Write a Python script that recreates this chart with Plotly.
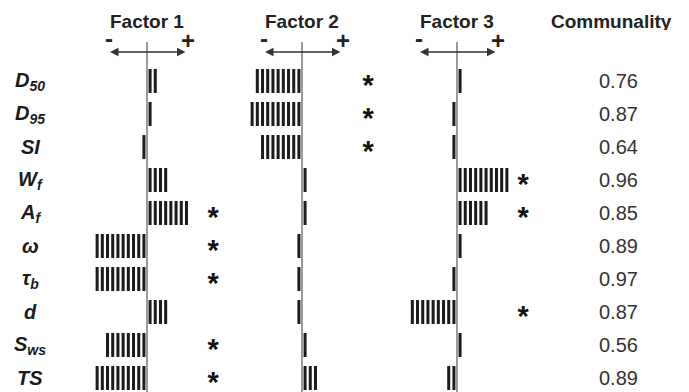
import plotly.graph_objects as go

# Variables (rows), top to bottom
row_labels = [
    "<b><i>D</i></b><sub><b><i>50</i></b></sub>",
    "<b><i>D</i></b><sub><b><i>95</i></b></sub>",
    "<b><i>SI</i></b>",
    "<b><i>W</i></b><sub><b><i>f</i></b></sub>",
    "<b><i>A</i></b><sub><b><i>f</i></b></sub>",
    "<b><i>ω</i></b>",
    "<b><i>τ</i></b><sub><b><i>b</i></b></sub>",
    "<b><i>d</i></b>",
    "<b><i>S</i></b><sub><b><i>ws</i></b></sub>",
    "<b><i>TS</i></b>",
]

factor_names = ["Factor 1", "Factor 2", "Factor 3"]

# Factor loadings (one stripe per 0.1)
factor1 = [0.2, 0.1, -0.1, 0.4, 0.8, -1.0, -1.0, 0.4, -0.8, -1.0]
factor2 = [-0.9, -1.0, -0.8, 0.1, 0.1, -0.1, -0.1, -0.1, 0.1, 0.3]
factor3 = [0.1, -0.1, -0.1, 1.0, 0.6, 0.1, -0.1, -0.9, 0.1, -0.2]

# Significant loadings (row indices)
sig1 = [4, 5, 6, 8, 9]
sig2 = [0, 1, 2]
sig3 = [3, 4, 7]

communality = [0.76, 0.87, 0.64, 0.96, 0.85, 0.89, 0.97, 0.87, 0.56, 0.89]

loadings = [factor1, factor2, factor3]
significant = [sig1, sig2, sig3]

W, H = 689, 392
STEP = 0.1        # loading covered by one stripe
STRIPE_W = 0.058  # drawn stripe thickness (loading units)
GAP0 = 0.03       # gap between axis line and first stripe
HALF = 1.45       # half range of each factor axis
PX_PER_UNIT = 52.0
STAR_X = 1.27     # asterisk column, in loading units
centers_px = [147, 302, 457]

# Row i sits at pixel 81 + 33*i
ROW0, ROW_H = 81.0, 33.0
y_top = -ROW0 / ROW_H
y_bot = (H - ROW0) / ROW_H

def py(p):
    return (p - ROW0) / ROW_H

def stripes(vals):
    ys, bases, lens = [], [], []
    for i, v in enumerate(vals):
        n = int(round(abs(v) / STEP))
        for k in range(n):
            start = GAP0 + k * STEP
            base = start if v > 0 else -(start + STRIPE_W)
            ys.append(i)
            bases.append(base)
            lens.append(STRIPE_W)
    return ys, bases, lens

fig = go.Figure()
annotations = []
shapes = []
font_family = "Liberation Sans, Arial, sans-serif"

for f, vals in enumerate(loadings):
    xa = "x" if f == 0 else f"x{f + 1}"
    ys, bases, lens = stripes(vals)
    fig.add_trace(go.Bar(
        orientation="h", y=ys, x=lens, base=bases, width=0.73,
        marker=dict(color="#1c1c1c", line=dict(width=0)),
        xaxis=xa, yaxis="y", showlegend=False, hoverinfo="skip",
    ))
    # significance markers
    sig = significant[f]
    fig.add_trace(go.Scatter(
        x=[STAR_X] * len(sig), y=[s + 0.2 for s in sig], mode="text",
        text=["<b>*</b>"] * len(sig),
        textfont=dict(size=29, color="#111", family=font_family),
        xaxis=xa, yaxis="y", showlegend=False, hoverinfo="skip",
        cliponaxis=False,
    ))
    c = centers_px[f]
    half_px = HALF * PX_PER_UNIT
    dom = [(c - half_px) / W, (c + half_px) / W]
    fig.layout[f"xaxis{'' if f == 0 else f + 1}"] = dict(
        domain=dom, range=[-HALF, HALF], visible=False, fixedrange=True)
    xr = xa
    shapes.append(dict(type="line", xref=xr, yref="y", x0=0, x1=0,
                       y0=py(42), y1=y_bot + 0.2,
                       line=dict(color="#7a7a7a", width=1.5)))
    annotations.append(dict(xref=xr, yref="y", x=0, y=py(21), xanchor="center",
                            text=f"<b>{factor_names[f]}</b>", showarrow=False,
                            height=18,
                            font=dict(size=19, color="#222", family=font_family)))
    annotations.append(dict(xref=xr, yref="y", x=0.74, y=py(52),
                            axref=xr, ayref="y", ax=-0.74, ay=py(52),
                            text="", showarrow=True, arrowhead=2, startarrowhead=2,
                            arrowside="end+start", arrowsize=1.3, arrowwidth=1.3,
                            arrowcolor="#333"))
    annotations.append(dict(xref=xr, yref="y", x=-0.74, y=py(38), xanchor="center",
                            text="<b>-</b>", showarrow=False, height=16,
                            font=dict(size=24, color="#222", family=font_family)))
    annotations.append(dict(xref=xr, yref="y", x=0.78, y=py(40), xanchor="center",
                            text="<b>+</b>", showarrow=False, height=16,
                            font=dict(size=24, color="#222", family=font_family)))

for i, lab in enumerate(row_labels):
    annotations.append(dict(xref="paper", yref="y", x=30 / W, y=i, xanchor="center",
                            text=lab, showarrow=False,
                            font=dict(size=20, color="#1a1a1a", family=font_family)))
    annotations.append(dict(xref="paper", yref="y", x=618 / W, y=i, xanchor="center",
                            text=f"{communality[i]:.2f}", showarrow=False,
                            font=dict(size=20, color="#333", family=font_family)))

annotations.append(dict(xref="paper", yref="y", x=611 / W, y=py(21), xanchor="center",
                        text="<b>Communality</b>", showarrow=False, height=18,
                        font=dict(size=19, color="#222", family=font_family)))

fig.update_layout(
    width=W, height=H, margin=dict(l=0, r=0, t=0, b=0),
    paper_bgcolor="white", plot_bgcolor="white",
    barmode="overlay", showlegend=False,
    yaxis=dict(range=[y_bot, y_top], visible=False, fixedrange=True),
    annotations=annotations, shapes=shapes,
)

fig.write_html("out.html", config={"displayModeBar": False})
